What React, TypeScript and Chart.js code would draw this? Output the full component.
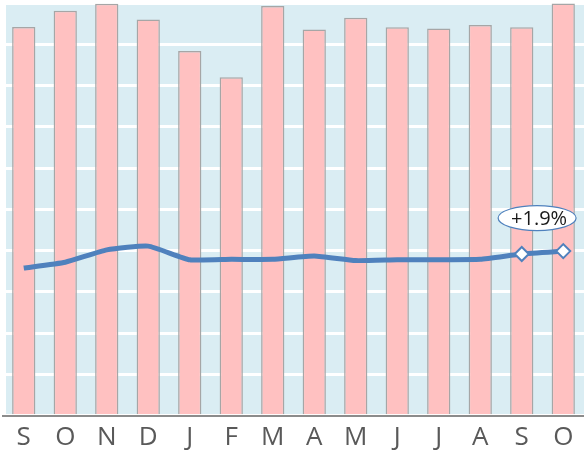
import React, { useEffect, useRef } from "react";
import { Chart, registerables } from "chart.js";

Chart.register(...registerables);

const months = ["S", "O", "N", "D", "J", "F", "M", "A", "M", "J", "J", "A", "S", "O"];
const barValues = [94.2, 98.1, 99.8, 96.0, 88.4, 82.0, 99.3, 93.6, 96.4, 94.1, 93.8, 94.7, 94.1, 99.9];
const lineValues = [35.8, 37.2, 40.2, 41.1, 37.8, 37.9, 37.9, 38.7, 37.6, 37.8, 37.8, 37.9, 39.2, 39.9];
const markerRadius = [0, 0, 0, 0, 0, 0, 0, 0, 0, 0, 0, 0, 7, 7];
const calloutText = "+1.9%";
const calloutPos = { x: 12.37, y: 47.9 };

const bgPlugin = {
  id: "plotBg",
  beforeDraw(chart: any) {
    const { ctx, chartArea } = chart;
    ctx.save();
    ctx.fillStyle = "#daedf3";
    ctx.fillRect(6, 5, chartArea.right - 6, chartArea.bottom - 5);
    ctx.restore();
  },
};

const calloutPlugin = {
  id: "callout",
  afterDatasetsDraw(chart: any) {
    const { ctx, scales } = chart;
    const cx = scales.x.getPixelForValue(calloutPos.x);
    const cy = scales.y.getPixelForValue(calloutPos.y);
    ctx.save();
    ctx.beginPath();
    ctx.ellipse(cx, cy, 39, 12.5, 0, 0, Math.PI * 2);
    ctx.fillStyle = "#ffffff";
    ctx.fill();
    ctx.lineWidth = 1.2;
    ctx.strokeStyle = "#4f81bd";
    ctx.stroke();
    ctx.fillStyle = "#1a1a1a";
    ctx.font = "20px 'Open Sans', sans-serif";
    ctx.textAlign = "center";
    ctx.textBaseline = "middle";
    ctx.fillText(calloutText, cx + 2, cy + 1);
    ctx.restore();
  },
};

export default function App() {
  const ref = useRef<HTMLCanvasElement>(null);
  useEffect(() => {
    document.body.style.margin = "0";
    const chart = new Chart(ref.current!, {
      type: "bar",
      data: {
        labels: months,
        datasets: [
          {
            type: "line",
            data: lineValues,
            borderColor: "#4f81bd",
            borderWidth: 5,
            pointRadius: markerRadius,
            pointStyle: "rectRot",
            pointBackgroundColor: "#ffffff",
            pointBorderColor: "#4f81bd",
            pointBorderWidth: 2,
            tension: 0.15,
            clip: false,
            order: 1,
          } as any,
          {
            type: "bar",
            data: barValues,
            backgroundColor: "#ffc1c1",
            borderColor: "#a6a6a6",
            borderWidth: 1.5,
            categoryPercentage: 1,
            barPercentage: 0.56,
            order: 2,
          },
        ],
      },
      options: {
        animation: false,
        responsive: false,
        maintainAspectRatio: false,
        layout: { autoPadding: false, padding: { top: 3, left: 3, right: 0, bottom: -5 } },
        plugins: { legend: { display: false }, tooltip: { enabled: false } },
        scales: {
          x: {
            grid: { display: false, drawTicks: false },
            border: { display: true, color: "#8c8c8c", width: 2 },
            ticks: {
              color: "#595959",
              font: { size: 26, family: "'Open Sans', sans-serif" },
              padding: 6,
            },
            afterFit(scale: any) {
              scale.paddingLeft = 0;
              scale.paddingRight = 0;
            },
          },
          y: {
            min: 0,
            max: 100,
            ticks: { display: false, stepSize: 10 },
            border: { display: false },
            grid: { color: "#ffffff", lineWidth: 3, drawTicks: false },
            afterFit(scale: any) {
              scale.paddingTop = 0;
              scale.paddingBottom = 0;
              scale.width = 0;
            },
          },
        },
      },
      plugins: [bgPlugin, calloutPlugin],
    });
    return () => chart.destroy();
  }, []);
  return (
    <canvas
      ref={ref}
      width={584}
      height={454}
      style={{ display: "block", width: 584, height: 454 }}
    />
  );
}
